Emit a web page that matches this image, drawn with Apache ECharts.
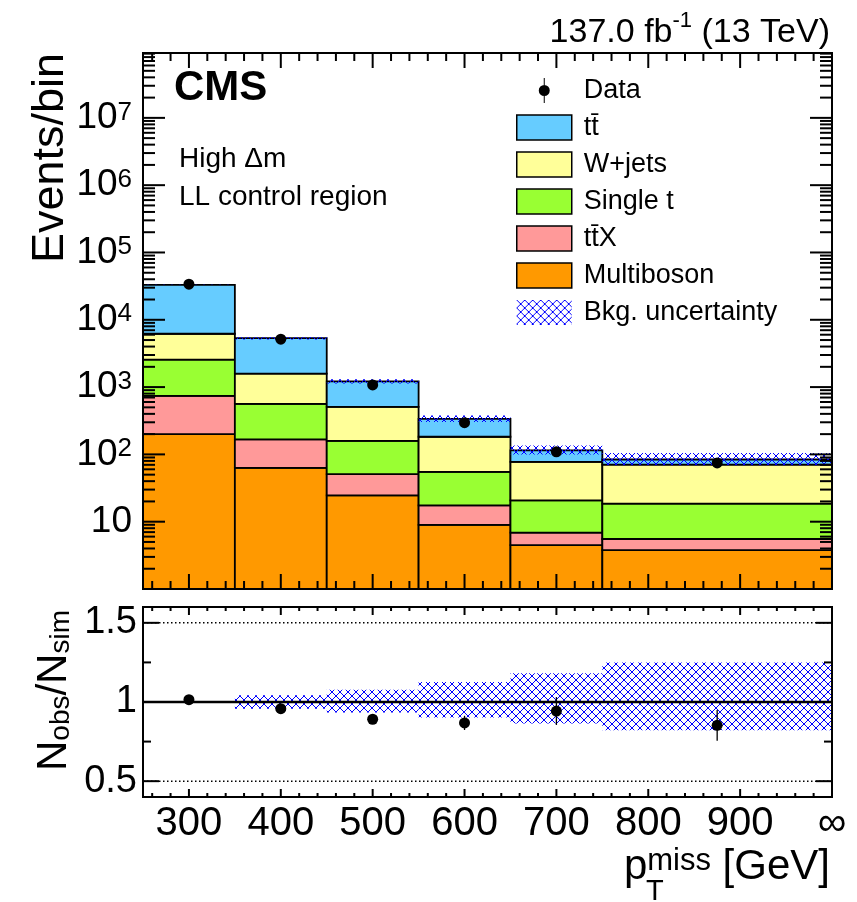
<!DOCTYPE html>
<html><head><meta charset="utf-8">
<script src="https://cdn.jsdelivr.net/npm/echarts@6/dist/echarts.min.js"></script>
<style>html,body{margin:0;padding:0;background:#fff}#c{width:857px;height:902px}</style>
</head><body><div id="c"></div>
<script>
// ---------------- data ----------------
const binEdges = [250, 350, 450, 550, 650, 750, 1000];
const binCenters = [300, 400, 500, 600, 700, 875];
const multiboson = [200, 63, 24.6, 9.0, 4.5, 3.79];
const ttX = [541, 104, 26.4, 8.5, 2.4, 1.74];
const singleT = [1819, 396, 108, 37.5, 13.8, 12.97];
const wjets = [3640, 1027, 348, 128, 56.6, 52.1];
const ttbar = [26800, 3740, 706, 153, 37.7, 13.3];
const dataObs = [33800, 5140, 1075, 296, 109, 74.6];
const ratio = [1.015, 0.958, 0.891, 0.868, 0.943, 0.853];
const ratioErr = [0.005, 0.014, 0.03, 0.045, 0.088, 0.097];
const uncUp = [1.005, 1.042, 1.078, 1.126, 1.182, 1.25];
const uncDown = [0.995, 0.958, 0.933, 0.902, 0.864, 0.822];
const xLabelValues = [300, 400, 500, 600, 700, 800, 900, 1000];
const xLabelTexts = ['300', '400', '500', '600', '700', '800', '900', '∞'];
const yDecadeExps = [1, 2, 3, 4, 5, 6, 7];
const ratioLabelValues = [0.5, 1, 1.5];
const ratioLabelTexts = ['0.5', '1', '1.5'];
const layerNames = ['Multiboson', 'tt̄X', 'Single t', 'W+jets', 'tt̄'];
const layerValues = [multiboson, ttX, singleT, wjets, ttbar];
const layerColors = ['#ff9900', '#ff9999', '#99ff33', '#ffff99', '#66ccff'];

// ---------------- setup ----------------
const FONT = '"Liberation Sans", Arial, Helvetica, sans-serif';
const xMin = 250, xMax = 1000;
const yMinU = 1, yMaxU = 9.2e7;
const yMinL = 0.4, yMaxL = 1.6;

function makeHatch() {
  const n = 8;
  const c = document.createElement('canvas');
  c.width = n; c.height = n;
  const g = c.getContext('2d');
  g.fillStyle = '#0000ff';
  for (let i = 0; i < n; i++) { g.fillRect(i, i, 1, 1); g.fillRect(n - 1 - i, i, 1, 1); }
  return c;
}
const hatch = { image: makeHatch(), repeat: 'repeat' };

function histRect(fill, stroke, lw) {
  return function (params, api) {
    const a = api.coord([api.value(0), api.value(3)]);
    const b = api.coord([api.value(1), api.value(2)]);
    return {
      type: 'rect',
      shape: { x: a[0], y: a[1], width: b[0] - a[0], height: b[1] - a[1] },
      style: { fill: fill, stroke: stroke, lineWidth: lw }
    };
  };
}

// stacked layers
const cum = binCenters.map(() => 0);
const series = [];
layerValues.forEach((vals, k) => {
  const d = vals.map((v, i) => {
    const lo = k === 0 ? yMinU : cum[i];
    const hi = cum[i] + v;
    cum[i] = hi;
    return [binEdges[i], binEdges[i + 1], lo, hi];
  });
  series.push({
    type: 'custom', name: layerNames[k], xAxisIndex: 0, yAxisIndex: 0, z: 2,
    itemStyle: { color: layerColors[k], borderColor: '#000', borderWidth: 1 },
    encode: { x: [0, 1], y: [2, 3] },
    renderItem: histRect(layerColors[k], '#000', 1.8),
    data: d
  });
});
const total = cum.slice();

// uncertainty band upper
series.push({
  type: 'custom', name: 'Bkg. uncertainty', xAxisIndex: 0, yAxisIndex: 0, z: 3,
  itemStyle: { color: hatch, borderWidth: 0 },
  encode: { x: [0, 1], y: [2, 3] },
  renderItem: histRect(hatch, null, 0),
  data: total.map((t, i) => [binEdges[i], binEdges[i + 1], t * uncDown[i], t * uncUp[i]])
});
// data points upper
series.push({
  type: 'scatter', name: 'Data', xAxisIndex: 0, yAxisIndex: 0, z: 5,
  symbol: 'circle', symbolSize: 11,
  itemStyle: { color: '#000', opacity: 1 },
  data: dataObs.map((v, i) => [binCenters[i], v])
});

// lower band
series.push({
  type: 'custom', name: 'ratioBand', xAxisIndex: 1, yAxisIndex: 1, z: 2,
  encode: { x: [0, 1], y: [2, 3] },
  renderItem: histRect(hatch, null, 0),
  data: uncDown.map((d, i) => [binEdges[i], binEdges[i + 1], d, uncUp[i]])
});
// reference lines lower
series.push({
  type: 'custom', name: 'refLines', xAxisIndex: 1, yAxisIndex: 1, z: 3,
  renderItem: function (params, api) {
    const ch = [];
    [[0.5, true], [1.5, true], [1, false]].forEach(([v, dotted]) => {
      const a = api.coord([xMin, v]), b = api.coord([xMax, v]);
      ch.push({ type: 'line', shape: { x1: a[0], y1: a[1], x2: b[0], y2: b[1] },
        style: dotted ? { stroke: '#000', lineWidth: 1.5, lineDash: [1.5, 2.5] } : { stroke: '#000', lineWidth: 2.5 } });
    });
    return { type: 'group', children: ch };
  },
  data: [[600, 1]]
});
// ratio error bars
series.push({
  type: 'custom', name: 'ratioErr', xAxisIndex: 1, yAxisIndex: 1, z: 4,
  renderItem: function (params, api) {
    const x = api.value(0), r = api.value(1), e = api.value(2);
    const a = api.coord([x, r - e]), b = api.coord([x, r + e]);
    return { type: 'line', shape: { x1: a[0], y1: a[1], x2: b[0], y2: b[1] }, style: { stroke: '#000', lineWidth: 1.3 } };
  },
  data: ratio.map((r, i) => [binCenters[i], r, ratioErr[i]])
});
series.push({
  type: 'scatter', name: 'ratio', xAxisIndex: 1, yAxisIndex: 1, z: 5,
  symbol: 'circle', symbolSize: 11, itemStyle: { color: '#000', opacity: 1 },
  data: ratio.map((r, i) => [binCenters[i], r])
});

// frames and ticks
function tickLine(x1, y1, x2, y2) {
  return { type: 'line', shape: { x1, y1, x2, y2 }, style: { stroke: '#000', lineWidth: 2 } };
}
series.push({
  type: 'custom', name: 'frameU', xAxisIndex: 0, yAxisIndex: 0, z: 8,
  renderItem: function (params, api) {
    const tl = api.coord([xMin, yMaxU]), br = api.coord([xMax, yMinU]);
    const ch = [{ type: 'rect', shape: { x: tl[0], y: tl[1], width: br[0] - tl[0], height: br[1] - tl[1] },
      style: { fill: null, stroke: '#000', lineWidth: 2 } }];
    for (let v = xMin + 10; v < xMax; v += 20) {
      const p = api.coord([v, yMinU])[0];
      const len = v % 100 === 0 ? 15 : 8;
      ch.push(tickLine(p, br[1], p, br[1] - len));
      ch.push(tickLine(p, tl[1], p, tl[1] + len));
    }
    for (let e = 0; e <= 8; e++) {
      for (let m = 1; m <= 9; m++) {
        const v = m * Math.pow(10, e);
        if (v <= yMinU || v >= yMaxU) continue;
        const py = api.coord([xMin, v])[1];
        const len = m === 1 ? 22 : 12;
        ch.push(tickLine(tl[0], py, tl[0] + len, py));
        ch.push(tickLine(br[0], py, br[0] - len, py));
      }
    }
    return { type: 'group', children: ch };
  },
  data: [[600, 10]]
});
series.push({
  type: 'custom', name: 'frameL', xAxisIndex: 1, yAxisIndex: 1, z: 8,
  renderItem: function (params, api) {
    const tl = api.coord([xMin, yMaxL]), br = api.coord([xMax, yMinL]);
    const ch = [{ type: 'rect', shape: { x: tl[0], y: tl[1], width: br[0] - tl[0], height: br[1] - tl[1] },
      style: { fill: null, stroke: '#000', lineWidth: 2 } }];
    for (let v = xMin + 10; v < xMax; v += 20) {
      const p = api.coord([v, yMinL])[0];
      const len = v % 100 === 0 ? 8 : 4;
      ch.push(tickLine(p, br[1], p, br[1] - len));
      ch.push(tickLine(p, tl[1], p, tl[1] + len));
    }
    [0.5, 0.75, 1, 1.25, 1.5].forEach(v => {
      const py = api.coord([xMin, v])[1];
      const len = (v === 0.75 || v === 1.25) ? 8 : 16;
      ch.push(tickLine(tl[0], py, tl[0] + len, py));
      ch.push(tickLine(br[0], py, br[0] - len, py));
    });
    return { type: 'group', children: ch };
  },
  data: [[600, 1]]
});

const option = {
  animation: false,
  backgroundColor: '#fff',
  textStyle: { fontFamily: FONT, color: '#000' },
  grid: [
    { left: 143, top: 53, width: 689, height: 536, outerBoundsMode: 'none', show: false },
    { left: 143, top: 607, width: 689, height: 190, outerBoundsMode: 'none', show: false }
  ],
  xAxis: [
    { type: 'value', gridIndex: 0, min: xMin, max: xMax,
      axisLine: { show: false }, axisTick: { show: false }, axisLabel: { show: false }, splitLine: { show: false } },
    { type: 'value', gridIndex: 1, min: xMin, max: xMax, interval: 50,
      axisLine: { show: false }, axisTick: { show: false }, splitLine: { show: false },
      axisLabel: { show: true, showMaxLabel: true, showMinLabel: true, hideOverlap: false, margin: 7,
        fontSize: 40, fontFamily: FONT, color: '#000',
        formatter: function (v) {
          const k = xLabelValues.findIndex(x => Math.abs(x - v) < 1e-6);
          return k >= 0 ? xLabelTexts[k] : '';
        } } }
  ],
  yAxis: [
    { type: 'log', gridIndex: 0, min: yMinU, max: yMaxU, logBase: 10, interval: 1,
      axisLine: { show: false }, axisTick: { show: false }, splitLine: { show: false }, minorTick: { show: false },
      axisLabel: { show: true, margin: 11, showMinLabel: true, showMaxLabel: true, hideOverlap: false,
        formatter: function (v) {
          const e = Math.round(Math.log10(v));
          if (Math.abs(v - Math.pow(10, e)) > 1e-6 * v) return '';
          if (yDecadeExps.indexOf(e) < 0) return '';
          if (e === 1) return '{p|10}';
          return '{m|10}{s|' + e + '}';
        },
        rich: {
          p: { fontSize: 37, fontFamily: FONT, color: '#000' },
          m: { fontSize: 37, fontFamily: FONT, color: '#000', lineHeight: 37, verticalAlign: 'bottom' },
          s: { fontSize: 26, fontFamily: FONT, color: '#000', lineHeight: 30, padding: [0, 0, 16, 0], verticalAlign: 'top' }
        } } },
    { type: 'value', gridIndex: 1, min: yMinL, max: yMaxL, interval: 0.1,
      axisLine: { show: false }, axisTick: { show: false }, splitLine: { show: false },
      axisLabel: { show: true, margin: 6, fontSize: 38, fontFamily: FONT, color: '#000', hideOverlap: false,
        formatter: function (v) {
          const k = ratioLabelValues.findIndex(x => Math.abs(x - v) < 1e-6);
          return k >= 0 ? ratioLabelTexts[k] : '';
        } } }
  ],
  legend: {
    orient: 'vertical', left: 516, top: 77, padding: 0,
    itemWidth: 55, itemHeight: 25, itemGap: 10,
    selectedMode: false,
    textStyle: { fontSize: 27, fontFamily: FONT, color: '#000', padding: [0, 0, 0, 7] },
    data: [
      { name: 'Data', icon: 'path://M5,0L6,0L6,25L5,25Z M0,12.5A5.5,5.5,0,1,1,11,12.5A5.5,5.5,0,1,1,0,12.5Z',
        itemStyle: { color: '#000', opacity: 1, borderWidth: 0 } },
      { name: 'tt̄', icon: 'rect', itemStyle: { borderColor: '#000', borderWidth: 1.5 } },
      { name: 'W+jets', icon: 'rect', itemStyle: { borderColor: '#000', borderWidth: 1.5 } },
      { name: 'Single t', icon: 'rect', itemStyle: { borderColor: '#000', borderWidth: 1.5 } },
      { name: 'tt̄X', icon: 'rect', itemStyle: { borderColor: '#000', borderWidth: 1.5 } },
      { name: 'Multiboson', icon: 'rect', itemStyle: { borderColor: '#000', borderWidth: 1.5 } },
      { name: 'Bkg. uncertainty', icon: 'rect', itemStyle: { color: hatch, borderWidth: 0 } }
    ]
  },
  graphic: [
    { type: 'text', x: 830, y: 29.5, style: {
        text: '{a|137.0 fb}{s|-1}{a| (13 TeV)}', align: 'right', verticalAlign: 'middle',
        rich: {
          a: { fontSize: 34, fontFamily: FONT, fill: '#000', lineHeight: 40, verticalAlign: 'bottom' },
          s: { fontSize: 22, fontFamily: FONT, fill: '#000', lineHeight: 16, verticalAlign: 'top' }
        } } },
    { type: 'text', x: 174, y: 88, style: { text: 'CMS', fontSize: 42, fontWeight: 'bold', fontFamily: FONT, fill: '#000', align: 'left', verticalAlign: 'middle' } },
    { type: 'text', x: 179, y: 159, style: { text: 'High Δm', fontSize: 28, fontFamily: FONT, fill: '#000', align: 'left', verticalAlign: 'middle' } },
    { type: 'text', x: 179, y: 197, style: { text: 'LL control region', fontSize: 28, fontFamily: FONT, fill: '#000', align: 'left', verticalAlign: 'middle' } },
    { type: 'text', x: 51, y: 53, rotation: Math.PI / 2, style: { text: 'Events/bin', fontSize: 45, fontFamily: FONT, fill: '#000', align: 'right', verticalAlign: 'middle' } },
    { type: 'text', x: 54, y: 610, rotation: Math.PI / 2, style: {
        text: '{n|N}{b|obs}{n|/N}{b|sim}', align: 'right', verticalAlign: 'middle',
        rich: {
          n: { fontSize: 42, fontFamily: FONT, fill: '#000', lineHeight: 42, padding: [0, 0, 13, 0], verticalAlign: 'top' },
          b: { fontSize: 28, fontFamily: FONT, fill: '#000', lineHeight: 28, verticalAlign: 'bottom' }
        } } },
    { type: 'text', x: 830, y: 867, style: {
        text: '{g|p}{s|miss}{g| [GeV]}', align: 'right', verticalAlign: 'middle',
        rich: {
          g: { fontSize: 42, fontFamily: FONT, fill: '#000', lineHeight: 42, padding: [22, 0, 0, 0], verticalAlign: 'bottom' },
          s: { fontSize: 31, fontFamily: FONT, fill: '#000', lineHeight: 29, verticalAlign: 'top' }
        } } },
    { type: 'text', x: 646, y: 892, style: { text: 'T', fontSize: 29, fontFamily: FONT, fill: '#000', align: 'left', verticalAlign: 'middle' } }
  ],
  series: series
};
const chart = echarts.init(document.getElementById('c'), null, { renderer: 'canvas' });
chart.setOption(option);
</script>
</body></html>
